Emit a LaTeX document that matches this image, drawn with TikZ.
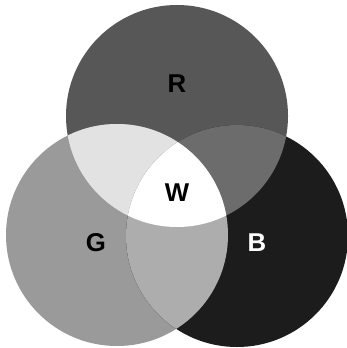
\documentclass[tikz,border=0pt]{standalone}
\usepackage{fontspec}
\setmainfont{Liberation Sans}
\definecolor{ToneR}{HTML}{575757}
\definecolor{ToneG}{HTML}{9A9A9A}
\definecolor{ToneB}{HTML}{1C1C1C}
\definecolor{ToneRG}{HTML}{E2E2E2}
\definecolor{ToneRB}{HTML}{6C6C6C}
\definecolor{ToneGB}{HTML}{ADADAD}
\tikzset{letter/.style={font=\fontsize{22}{26}\selectfont\bfseries, inner sep=0pt}}

\begin{document}
\begin{tikzpicture}[x=0.03cm,y=-0.03cm]
\useasboundingbox (0,0) rectangle (346,348);
\fill[white] (0,0) rectangle (346,348);
\def\rad{3.33cm}
\coordinate (R) at (177,116);\coordinate (G) at (117,235);\coordinate (B) at (237,236);
\fill[ToneR] (R) circle (\rad);
\fill[ToneG] (G) circle (\rad);
\fill[ToneB] (B) circle (\rad);
\begin{scope}\clip (R) circle (\rad);\fill[ToneRG] (G) circle (\rad);\fill[ToneRB] (B) circle (\rad);\end{scope}
\begin{scope}\clip (G) circle (\rad);\fill[ToneGB] (B) circle (\rad);
\clip (R) circle (\rad);\fill[white] (B) circle (\rad);\end{scope}
\node[letter] (labR) at (177,84){R};
\node[letter] (labW) at (177,193){W};
\node[letter] (labG) at (96,243){G};
\node[letter, text=white] (labB) at (257,243){B};
\end{tikzpicture}
\end{document}
